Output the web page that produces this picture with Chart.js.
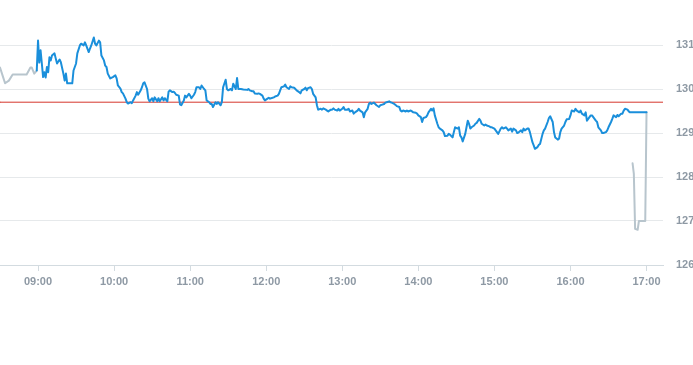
<!DOCTYPE html>
<html>
<head>
<meta charset="utf-8">
<script src="https://cdn.jsdelivr.net/npm/chart.js@4/dist/chart.umd.min.js"></script>
<style>
  html, body { margin: 0; padding: 0; background: #fff; overflow: hidden; }
</style>
</head>
<body>
<canvas id="chart1" width="693" height="365"></canvas>
<script>
const axisStart = "08:30";
const axisEnd = "17:13";
const prevClose = 129.7;
const yMin = 126;
const yMax = 131.5;

// pre-open (grey)
const preTimes = ["08:30", "08:32", "08:34", "08:37", "08:40", "08:51", "08:54", "08:55", "08:57", "08:59"];
const prePrices = [130.49, 130.31, 130.13, 130.19, 130.33, 130.33, 130.49, 130.49, 130.35, 130.42];

// trading session (blue)
const sessionTimes = [
  "08:59", "09:00", "09:01", "09:02", "09:03", "09:04", "09:05", "09:06", "09:07", "09:08", "09:09", "09:10", "09:11", "09:13", "09:14", "09:15", "09:17", "09:18", "09:20", "09:21", "09:22", "09:23", "09:27", "09:28", "09:30", "09:31", "09:33", "09:34", "09:36", "09:37", "09:38", "09:40", "09:41", "09:42", "09:44", "09:45", "09:46", "09:48", "09:49", "09:50", "09:52", "09:53", "09:54", "09:55", "09:57", "09:59",
  "10:01", "10:02", "10:03", "10:05", "10:06", "10:07", "10:09", "10:10", "10:11", "10:13", "10:14", "10:15", "10:17", "10:18", "10:19", "10:21", "10:22", "10:23", "10:24", "10:26", "10:27", "10:28", "10:30", "10:31", "10:32", "10:34", "10:35", "10:36", "10:38", "10:39", "10:40", "10:42", "10:43", "10:44", "10:46", "10:47", "10:48", "10:49", "10:51", "10:52", "10:53", "10:55", "10:56", "10:57", "10:59",
  "11:00", "11:01", "11:03", "11:04", "11:05", "11:07", "11:08", "11:09", "11:11", "11:12", "11:13", "11:15", "11:16", "11:17", "11:18", "11:20", "11:21", "11:22", "11:24", "11:25", "11:26", "11:28", "11:29", "11:30", "11:32", "11:33", "11:34", "11:36", "11:37", "11:38", "11:40", "11:42", "11:45", "11:46", "11:47", "11:49", "11:50", "11:51", "11:53", "11:54", "11:55", "11:57", "11:58", "11:59",
  "12:01", "12:02", "12:03", "12:05", "12:06", "12:07", "12:09", "12:10", "12:11", "12:12", "12:14", "12:15", "12:16", "12:18", "12:19", "12:20", "12:22", "12:23", "12:24", "12:26", "12:27", "12:28", "12:30", "12:31", "12:32", "12:33", "12:35", "12:36", "12:37", "12:39", "12:40", "12:41", "12:43", "12:44", "12:45", "12:47", "12:48", "12:49", "12:51", "12:52", "12:53", "12:54", "12:56", "12:57", "12:58",
  "13:00", "13:01", "13:02", "13:04", "13:05", "13:06", "13:08", "13:09", "13:10", "13:12", "13:13", "13:14", "13:16", "13:17", "13:18", "13:20", "13:21", "13:22", "13:23", "13:25", "13:26", "13:27", "13:29", "13:30", "13:31", "13:33", "13:34", "13:35", "13:37", "13:38", "13:39", "13:41", "13:42", "13:43", "13:45", "13:46", "13:47", "13:48", "13:50", "13:51", "13:52", "13:54", "13:55", "13:56", "13:58", "13:59",
  "14:00", "14:02", "14:03", "14:04", "14:06", "14:07", "14:08", "14:10", "14:11", "14:12", "14:13", "14:15", "14:16", "14:17", "14:19", "14:20", "14:21", "14:23", "14:24", "14:25", "14:27", "14:28", "14:29", "14:31", "14:32", "14:33", "14:34", "14:35", "14:37", "14:38", "14:39", "14:40", "14:41", "14:42", "14:44", "14:45", "14:46", "14:48", "14:49", "14:50", "14:52", "14:53", "14:54", "14:56", "14:57", "14:58",
  "15:00", "15:01", "15:02", "15:03", "15:05", "15:06", "15:07", "15:09", "15:10", "15:11", "15:13", "15:14", "15:15", "15:17", "15:18", "15:19", "15:21", "15:22", "15:23", "15:24", "15:26", "15:27", "15:28", "15:30", "15:31", "15:32", "15:34", "15:35", "15:36", "15:38", "15:39", "15:40", "15:42", "15:43", "15:44", "15:46", "15:47", "15:48", "15:50", "15:51", "15:52", "15:53", "15:55", "15:56", "15:57", "15:59",
  "16:00", "16:01", "16:03", "16:04", "16:05", "16:07", "16:08", "16:09", "16:11", "16:12", "16:13", "16:15", "16:16", "16:17", "16:18", "16:20", "16:21", "16:22", "16:24", "16:25", "16:26", "16:28", "16:29", "16:30", "16:32", "16:33", "16:34", "16:36", "16:37", "16:38", "16:40", "16:41", "16:42", "16:43", "16:45", "16:46", "16:47", "17:00"
];
const sessionPrices = [
  130.42, 131.10, 130.60, 130.88, 130.58, 130.27, 130.38, 130.26, 130.50, 130.38, 130.72, 130.65, 130.76, 130.81, 130.69, 130.58, 130.67, 130.61, 130.35, 130.19, 130.35, 130.13, 130.13, 130.42, 130.58, 130.81, 130.99, 131.03, 130.99, 131.06, 130.99, 130.84, 130.92, 130.99, 131.17, 131.03, 130.99, 131.10, 131.06, 130.76, 130.65, 130.53, 130.50, 130.35, 130.24, 130.27,
  130.31, 130.24, 130.08, 130.01, 129.93, 129.90, 129.78, 129.70, 129.67, 129.70, 129.68, 129.74, 129.85, 129.93, 129.87, 129.97, 130.04, 130.13, 130.15, 130.00, 129.78, 129.72, 129.79, 129.72, 129.81, 129.72, 129.79, 129.72, 129.81, 129.74, 129.79, 129.72, 129.94, 129.97, 129.93, 129.94, 129.91, 129.87, 129.85, 129.65, 129.63, 129.74, 129.85, 129.81, 129.89,
  129.85, 129.79, 129.87, 129.93, 130.04, 130.04, 130.00, 130.08, 130.00, 129.97, 129.74, 129.70, 129.66, 129.66, 129.59, 129.70, 129.66, 129.70, 129.63, 129.70, 130.04, 130.21, 130.00, 129.97, 130.00, 129.97, 130.12, 130.00, 130.25, 130.00, 130.00, 129.99, 129.98, 130.00, 129.97, 129.95, 129.95, 129.90, 129.89, 129.90, 129.89, 129.85, 129.78, 129.74,
  129.78, 129.80, 129.78, 129.80, 129.81, 129.83, 129.85, 129.89, 129.97, 130.04, 130.06, 130.10, 130.04, 130.00, 130.06, 130.04, 130.03, 130.00, 129.97, 129.93, 129.90, 129.97, 130.00, 130.03, 129.97, 130.02, 130.04, 130.00, 129.89, 129.81, 129.63, 129.53, 129.55, 129.53, 129.56, 129.53, 129.51, 129.49, 129.53, 129.53, 129.56, 129.53, 129.51, 129.55, 129.51,
  129.55, 129.59, 129.53, 129.53, 129.55, 129.49, 129.51, 129.44, 129.47, 129.51, 129.55, 129.51, 129.47, 129.36, 129.47, 129.55, 129.66, 129.69, 129.66, 129.69, 129.66, 129.63, 129.59, 129.63, 129.64, 129.66, 129.69, 129.70, 129.72, 129.70, 129.69, 129.66, 129.64, 129.61, 129.59, 129.51, 129.49, 129.51, 129.49, 129.51, 129.49, 129.51, 129.49, 129.47, 129.46, 129.44,
  129.40, 129.36, 129.25, 129.34, 129.36, 129.40, 129.47, 129.55, 129.51, 129.56, 129.40, 129.21, 129.13, 129.10, 129.06, 129.02, 128.93, 128.94, 128.98, 128.96, 128.90, 129.02, 129.13, 129.10, 129.13, 128.94, 128.90, 128.81, 128.98, 129.13, 129.28, 129.21, 129.10, 129.13, 129.17, 129.21, 129.23, 129.32, 129.28, 129.21, 129.17, 129.19, 129.17, 129.15, 129.13, 129.13,
  129.10, 129.06, 129.02, 128.98, 129.10, 129.13, 129.10, 129.13, 129.10, 129.06, 129.10, 129.03, 129.10, 129.06, 129.00, 129.01, 129.06, 129.02, 129.10, 129.06, 129.10, 129.10, 129.02, 128.79, 128.72, 128.64, 128.68, 128.73, 128.75, 128.98, 129.06, 129.10, 129.25, 129.34, 129.38, 129.25, 129.02, 128.90, 128.85, 128.87, 129.02, 129.10, 129.17, 129.25, 129.31, 129.32,
  129.40, 129.51, 129.49, 129.55, 129.51, 129.47, 129.51, 129.44, 129.40, 129.47, 129.28, 129.36, 129.40, 129.40, 129.36, 129.28, 129.25, 129.13, 129.06, 129.00, 129.00, 129.02, 129.06, 129.13, 129.25, 129.32, 129.40, 129.36, 129.41, 129.38, 129.44, 129.44, 129.51, 129.55, 129.53, 129.49, 129.47, 129.47
];

// closing auction (grey)
const postTimes = ["16:49", "16:50", "16:51", "16:53", "16:54", "16:59", "17:00"];
const postPrices = [128.31, 128.07, 126.82, 126.80, 127.00, 127.00, 129.47];

function toMin(t) {
  const [h, m] = t.split(":").map(Number);
  return h * 60 + m;
}
function pts(times, prices) {
  return times.map((t, i) => ({ x: toMin(t), y: prices[i] }));
}
function fmt(v) {
  const h = Math.floor(v / 60), m = v % 60;
  return String(h).padStart(2, "0") + ":" + String(m).padStart(2, "0");
}

const tickFont = { family: "'Liberation Sans Narrow', 'Arial Narrow', 'Liberation Sans', Arial, sans-serif", size: 11, weight: "bold" };
const tickColor = "#8e99a4";

const canvas = document.getElementById("chart1");
new Chart(canvas, {
  type: "line",
  data: {
    datasets: [
      { data: pts(sessionTimes, sessionPrices), borderColor: "#1a8fdb", borderWidth: 2 },
      { data: pts(preTimes, prePrices), borderColor: "#b8c5cd", borderWidth: 2 },
      { data: pts(postTimes, postPrices), borderColor: "#b8c5cd", borderWidth: 2 },
      { data: pts([axisStart, axisEnd], [prevClose, prevClose]), borderColor: "#d6362c", borderWidth: 1 }
    ]
  },
  options: {
    responsive: false,
    animation: false,
    parsing: true,
    layout: { padding: { top: 23, left: 0, right: 0, bottom: 0 } },
    elements: { point: { radius: 0, hoverRadius: 0 }, line: { tension: 0, borderCapStyle: "round", borderJoinStyle: "round" } },
    plugins: { legend: { display: false }, tooltip: { enabled: false } },
    events: [],
    scales: {
      x: {
        type: "linear",
        position: "bottom",
        min: toMin(axisStart),
        max: toMin(axisEnd),
        afterFit: s => { s.height = 100; },
        ticks: { stepSize: 60, includeBounds: false, autoSkip: false, maxRotation: 0, padding: 4, color: tickColor, font: tickFont, callback: v => fmt(v) },
        grid: { drawOnChartArea: false, drawTicks: true, tickLength: 6, color: "#d3dbe0" },
        border: { display: true, color: "#d3dbe0" }
      },
      y: {
        position: "right",
        min: yMin,
        max: yMax,
        afterFit: s => { s.width = 30; },
        ticks: { stepSize: 1, includeBounds: false, padding: 13, color: tickColor, font: tickFont, callback: v => v.toFixed(0) },
        grid: { drawTicks: false, color: "#e6e9eb" },
        border: { display: false }
      }
    }
  }
});
</script>
</body>
</html>
